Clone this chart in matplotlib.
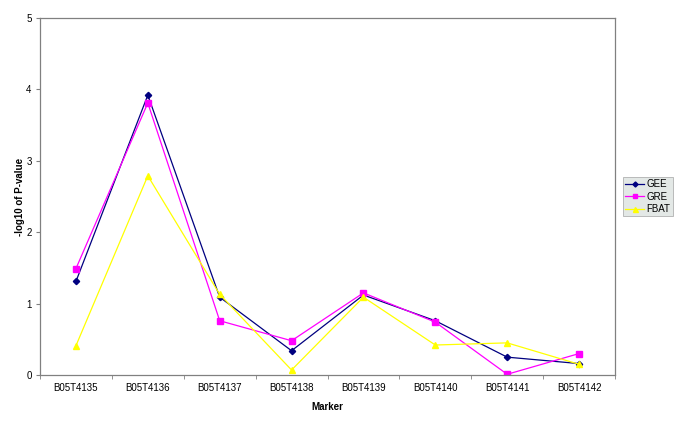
import matplotlib
matplotlib.use("Agg")
import matplotlib.pyplot as plt
import numpy as np

plt.rcParams["font.family"] = ["Liberation Sans", "DejaVu Sans"]

markers = ["B05T4135", "B05T4136", "B05T4137", "B05T4138",
           "B05T4139", "B05T4140", "B05T4141", "B05T4142"]
gee = [1.31, 3.92, 1.09, 0.34, 1.12, 0.76, 0.25, 0.16]
gre = [1.49, 3.81, 0.76, 0.48, 1.15, 0.74, 0.01, 0.30]
fbat = [0.41, 2.79, 1.13, 0.07, 1.09, 0.42, 0.45, 0.15]

fig = plt.figure(figsize=(6.85, 4.29), dpi=100)
ax = fig.add_axes([40 / 685, 1 - 375 / 429, 575 / 685, 357 / 429])

x = np.arange(len(markers))
ax.plot(x, gee, color="#000080", marker="D", markersize=3.2, lw=0.9, label="GEE")
ax.plot(x, gre, color="#ff00ff", marker="s", markersize=4, lw=0.9, label="GRE")
ax.plot(x, fbat, color="#ffff00", marker="^", markersize=4.5, lw=0.9, label="FBAT")

ax.set_xlim(-0.5, len(markers) - 0.5)
ax.set_ylim(0, 5)
ax.set_yticks(range(6))
ax.set_xticks(x)
ax.set_xticklabels(markers)
ax.set_xticks(np.arange(-0.5, len(markers)), minor=True)
ax.tick_params(axis="x", which="major", length=0, pad=6, labelsize=7)
ax.tick_params(axis="x", which="minor", length=3, color="#808080", direction="out")
ax.tick_params(axis="y", length=3, color="#808080", labelsize=7, pad=3)

for s in ax.spines.values():
    s.set_color("#808080")
    s.set_linewidth(0.9)

ax.set_xlabel("Marker", fontsize=7, fontweight="bold", labelpad=6)
ax.set_ylabel("-log10 of P-value", fontsize=7, fontweight="bold")
ax.yaxis.set_label_coords(-0.026, 0.5)

leg = ax.legend(loc="center left", bbox_to_anchor=(1.008, 0.5), fontsize=7,
                frameon=True, fancybox=False, handlelength=2.0,
                borderpad=0.25, labelspacing=0.25, handletextpad=0.2,
                borderaxespad=0.3, markerscale=0.8)
leg.get_frame().set_facecolor("#dde3e0")
leg.get_frame().set_edgecolor("#a0a0a0")
leg.get_frame().set_linewidth(0.6)

fig.savefig("out.png", dpi=100)
